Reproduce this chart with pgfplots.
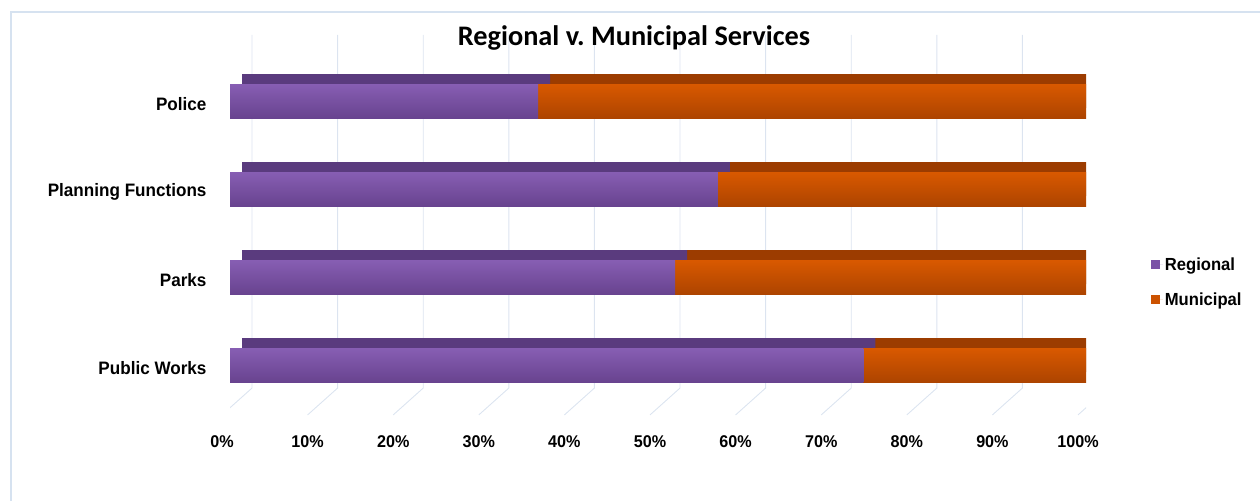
\documentclass[border=0pt]{standalone}
\usepackage{pgfplots}
\usepackage{pgfplotstable}
\pgfplotsset{compat=1.18}
\usepackage{fontspec}
\setmainfont{Liberation Sans}
\newfontfamily\labfont{Liberation Sans}[FakeStretch=0.95]
\newfontfamily\titlefont{Carlito}
\definecolor{regT}{HTML}{875EB3}
\definecolor{regB}{HTML}{68438F}
\definecolor{regD}{HTML}{5A3B7E}
\definecolor{regL}{HTML}{7A53A6}
\definecolor{munT}{HTML}{D95900}
\definecolor{munB}{HTML}{AD4400}
\definecolor{munD}{HTML}{9C3C00}
\definecolor{munL}{HTML}{CC5200}
\definecolor{gridc}{HTML}{DCE4F0}
\definecolor{framec}{HTML}{D6E2F0}

\pgfplotstableread{
y reg mun
0 74 26
1 52 48
2 57 43
3 36 64
}\datatable

\pgfplotsset{
  base/.style={
    scale only axis, width=856pt, height=383pt,
    at={(230pt,83pt)}, anchor=south west,
    xmin=0, xmax=100, ymin=-0.6, ymax=3.75,
    xbar, bar width=34pt,
    axis line style={draw=none},
    major tick length=0pt,
  }
}

\begin{document}
\begin{tikzpicture}
\path[use as bounding box] (0pt,0pt) rectangle (1260pt,501pt);
\draw[framec, line width=1.5pt] (11pt,0pt) -- (11pt,489pt) -- (1260pt,489pt);

% back layer: grid + depth faces
\begin{axis}[base, xtick=\empty, ytick=\empty]
\pgfplotsinvokeforeach{0,10,...,100}{
  \draw[gridc, line width=0.9pt] ([xshift=22pt]axis cs:#1,3.75) -- ([xshift=22pt]axis cs:#1,-0.26) -- ([xshift=-8pt]axis cs:#1,-0.565);
}
\draw[gridc, line width=1pt] ([xshift=-8pt]axis cs:0,3.4) -- ([xshift=-8pt]axis cs:0,-0.565);
\addplot[bar shift=0pt, draw=none, fill=munD, xshift=12pt, yshift=10pt, forget plot]
  table[x expr=\thisrow{reg}+\thisrow{mun}, y=y]{\datatable};
\addplot[bar shift=0pt, draw=none, fill=regD, xshift=12pt, yshift=10pt, forget plot]
  table[x=reg, y=y]{\datatable};
\end{axis}

% front layer
\begin{axis}[base,
  xtick={0,10,...,100},
  xticklabels={0\%,10\%,20\%,30\%,40\%,50\%,60\%,70\%,80\%,90\%,100\%},
  ytick={0,1,2,3},
  yticklabels={Public Works,Parks,Planning Functions,Police},
  xticklabel style={font=\labfont\bfseries\fontsize{17}{20}\selectfont, yshift=-14pt, xshift=-8pt},
  yticklabel style={font=\labfont\bfseries\fontsize{18}{20}\selectfont, xshift=-20pt, yshift=-3pt},
  legend style={at={(1.072,0.355)}, anchor=west, draw=none, fill=none,
    font=\labfont\bfseries\fontsize{17.5}{20}\selectfont, row sep=17pt},
  legend cell align=left,
  legend image code/.code={\fill[#1] (0pt,-4.5pt) rectangle (9pt,4.5pt); \path (0pt,0pt) -- (12pt,0pt);},
]
\pgfplotsinvokeforeach{0,1,2,3}{
  \addplot[bar shift=0pt, draw=none, top color=munT, bottom color=munB, forget plot,
    restrict y to domain=#1:#1]
    table[x expr=\thisrow{reg}+\thisrow{mun}, y=y]{\datatable};
  \addplot[bar shift=0pt, draw=none, top color=regT, bottom color=regB, forget plot,
    restrict y to domain=#1:#1]
    table[x=reg, y=y]{\datatable};
}
\addlegendimage{fill=regL, draw=none}
\addlegendimage{fill=munL, draw=none}
\legend{Regional, Municipal}
\end{axis}

\node[font=\titlefont\bfseries\fontsize{28.3}{31}\selectfont] at (634pt,463pt) {Regional v.\ Municipal Services};
\end{tikzpicture}
\end{document}
